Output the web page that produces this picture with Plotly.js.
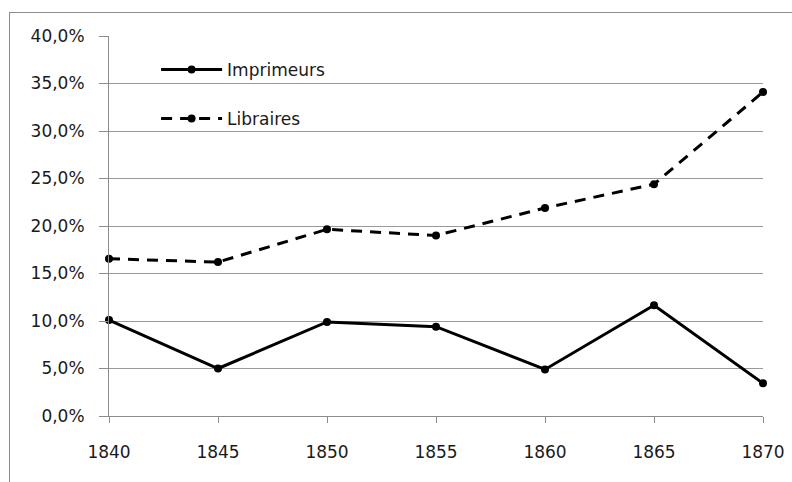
<!DOCTYPE html>
<html>
<head>
<meta charset="utf-8">
<script src="https://cdn.plot.ly/plotly-3.0.1.min.js"></script>
<style>
  html, body { margin: 0; padding: 0; background: #fff; overflow: hidden; }
  #chart { position: absolute; left: 0; top: 0; width: 792px; height: 482px; }
  #frame { position: absolute; left: 9px; top: 12px; width: 800px; height: 500px;
           border-top: 1px solid #8c8c8c; border-left: 1px solid #8c8c8c; pointer-events: none; }
</style>
</head>
<body>
<div id="frame"></div>
<div id="chart"></div>
<script>
const years = [1840, 1845, 1850, 1855, 1860, 1865, 1870];
const imprimeurs = [0.101, 0.050, 0.099, 0.094, 0.049, 0.1165, 0.0345];
const libraires = [0.1655, 0.162, 0.1965, 0.190, 0.219, 0.244, 0.341];
const seriesNames = ['Imprimeurs', 'Libraires'];
const yTicks = [0, 0.05, 0.10, 0.15, 0.20, 0.25, 0.30, 0.35, 0.40];

const fontFam = 'DejaVu Sans, Liberation Sans, sans-serif';
const fs = 17;

const traces = [
  {
    x: years, y: imprimeurs, name: seriesNames[0], type: 'scatter', mode: 'lines+markers',
    line: { color: '#000', width: 3 }, marker: { color: '#000', size: 8 },
    cliponaxis: false, legendgroup: 'a'
  },
  {
    x: years, y: libraires, name: seriesNames[1], type: 'scatter', mode: 'lines+markers',
    line: { color: '#000', width: 3, dash: '11px,8px' }, marker: { color: '#000', size: 8 },
    cliponaxis: false, legendgroup: 'b'
  }
];

const layout = {
  width: 792, height: 482,
  margin: { l: 109, r: 29, t: 36, b: 66 },
  paper_bgcolor: 'rgba(0,0,0,0)', plot_bgcolor: 'rgba(0,0,0,0)',
  separators: ', ',
  font: { family: fontFam, size: fs, color: '#1a1a1a' },
  showlegend: true,
  legend: {
    x: 0.072, y: 0.958, xanchor: 'left', yanchor: 'top',
    traceorder: 'grouped', tracegroupgap: 24,
    bgcolor: 'rgba(0,0,0,0)', borderwidth: 0,
    font: { family: fontFam, size: fs, color: '#1a1a1a' },
    itemwidth: 61
  },
  xaxis: {
    range: [1840, 1870], tickmode: 'array', tickvals: years, ticktext: years.map(String),
    showgrid: false, zeroline: false, showline: true, linecolor: '#8c8c8c', linewidth: 1,
    ticks: 'outside', ticklen: 6, tickcolor: '#8c8c8c', tickwidth: 1,
    ticklabelstandoff: 15,
    tickfont: { family: fontFam, size: fs, color: '#1a1a1a' }
  },
  yaxis: {
    range: [0, 0.4], tickmode: 'array', tickvals: yTicks, tickformat: '.1%',
    showgrid: true, gridcolor: '#9a9a9a', gridwidth: 1, zeroline: false,
    showline: true, linecolor: '#8c8c8c', linewidth: 1,
    ticks: 'outside', ticklen: 9, tickcolor: '#8c8c8c', tickwidth: 1,
    ticklabelstandoff: 11,
    tickfont: { family: fontFam, size: fs, color: '#1a1a1a' }
  }
};

Plotly.newPlot('chart', traces, layout, { staticPlot: true });
</script>
</body>
</html>
